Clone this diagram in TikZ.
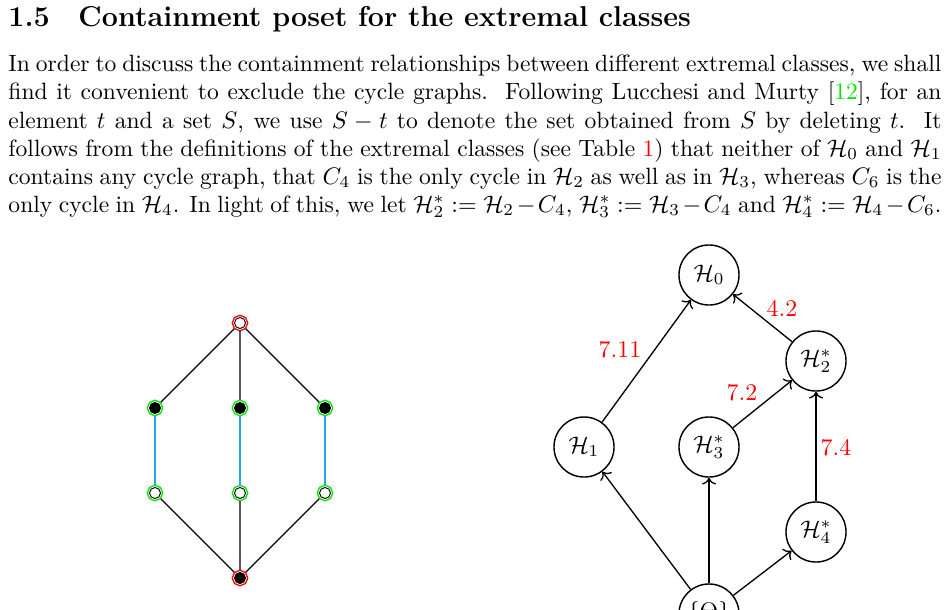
\documentclass[tikz,border=0pt]{standalone}
\usepackage{amsmath}
\usetikzlibrary{arrows.meta,positioning}
\definecolor{citegreen}{RGB}{0,230,0}
\definecolor{cycblue}{RGB}{30,170,230}

\begin{document}
\begin{tikzpicture}[
      x=0.418pt, y=-0.418pt,
      txt/.style={anchor=base west, inner sep=0pt, font=\fontsize{9.85pt}{12pt}\selectfont},
      vtx/.style={circle, draw=black, line width=0.4pt, minimum size=4.6pt, inner sep=0pt, outer sep=1.1pt},
      redv/.style={vtx, preaction={draw=red, line width=2.3pt}, preaction={draw=white, line width=1.1pt}},
      greenv/.style={vtx, preaction={draw=citegreen, line width=2.3pt}, preaction={draw=white, line width=1.1pt}},
      cls/.style={circle, draw, line width=0.6pt, minimum size=25.1pt, inner sep=0pt},
      arr/.style={->, line width=0.55pt},
      num/.style={text=red}
    ]
    \clip (0,0) rectangle (948,609);

    % heading and paragraph
    \node[anchor=base west, inner sep=0pt] (head) at (8,27) {\large\bfseries 1.5\quad Containment poset for the extremal classes};
    \node[txt] (l1) at (8,72) {\makebox[390pt][s]{In order to discuss the containment relationships between different extremal classes, we shall}};
    \node[txt] (l2) at (8,100) {\makebox[390pt][s]{find it convenient to exclude the cycle graphs.\ \ Following Lucchesi and Murty [\textcolor{citegreen}{12}], for an}};
    \node[txt] (l3) at (8,128) {\makebox[390pt][s]{element $t$ and a set $S$, we use $S-t$ to denote the set obtained from $S$ by deleting $t$.\ \ It}};
    \node[txt] (l4) at (8,156) {\makebox[390pt][s]{follows from the definitions of the extremal classes (see Table \textcolor{red}{1}) that neither of $\mathcal{H}_0$ and $\mathcal{H}_1$}};
    \node[txt] (l5) at (8,184) {\makebox[390pt][s]{contains any cycle graph, that $C_4$ is the only cycle in $\mathcal{H}_2$ as well as in $\mathcal{H}_3$, whereas $C_6$ is the}};
    \node[txt] (l6) at (8,212) {\makebox[390pt][s]{only cycle in $\mathcal{H}_4$. In light of this, we let $\mathcal{H}_2^*:=\mathcal{H}_2-C_4$, $\mathcal{H}_3^*:=\mathcal{H}_3-C_4$ and $\mathcal{H}_4^*:=\mathcal{H}_4-C_6$.}};

    % left graph
    \node[redv, fill=white] (top) at (240,323) {};
    \node[greenv, fill=black] (a1) at (155,408) {};
    \node[greenv, fill=black] (a2) at (240,408) {};
    \node[greenv, fill=black] (a3) at (325,408) {};
    \node[greenv, fill=white] (b1) at (155,493) {};
    \node[greenv, fill=white] (b2) at (240,493) {};
    \node[greenv, fill=white] (b3) at (325,493) {};
    \node[redv, fill=black] (bot) at (240,578) {};
    \draw[line width=0.55pt] (top) -- (a1) (top) -- (a2) (top) -- (a3);
    \draw[line width=0.55pt, cycblue] (a1) -- (b1) (a2) -- (b2) (a3) -- (b3);
    \draw[line width=0.55pt] (b1) -- (bot) (b2) -- (bot) (b3) -- (bot);

    % poset
    \node[cls] (h0) at (709,275) {$\mathcal{H}_0$};
    \node[cls] (h2) at (816,361) {$\mathcal{H}_2^*$};
    \node[cls] (h1) at (584,447) {$\mathcal{H}_1$};
    \node[cls] (h3) at (709,447) {$\mathcal{H}_3^*$};
    \node[cls] (h4) at (816,532) {$\mathcal{H}_4^*$};
    \node[cls] (base) at (709,614) {$\{\Theta\}$};
    \draw[arr] (h1) -- (h0);
    \draw[arr] (h2) -- (h0);
    \draw[arr] (h3) -- (h2);
    \draw[arr] (h4) -- (h2);
    \draw[arr] (base) -- (h1);
    \draw[arr] (base) -- (h3);
    \draw[arr] (base) -- (h4);
    \node[num] (n42) at (782,308) {4.2};
    \node[num] (n711) at (620,350) {7.11};
    \node[num] (n72) at (742,393) {7.2};
    \node[num] (n74) at (836,448) {7.4};
  \end{tikzpicture}
\end{document}
